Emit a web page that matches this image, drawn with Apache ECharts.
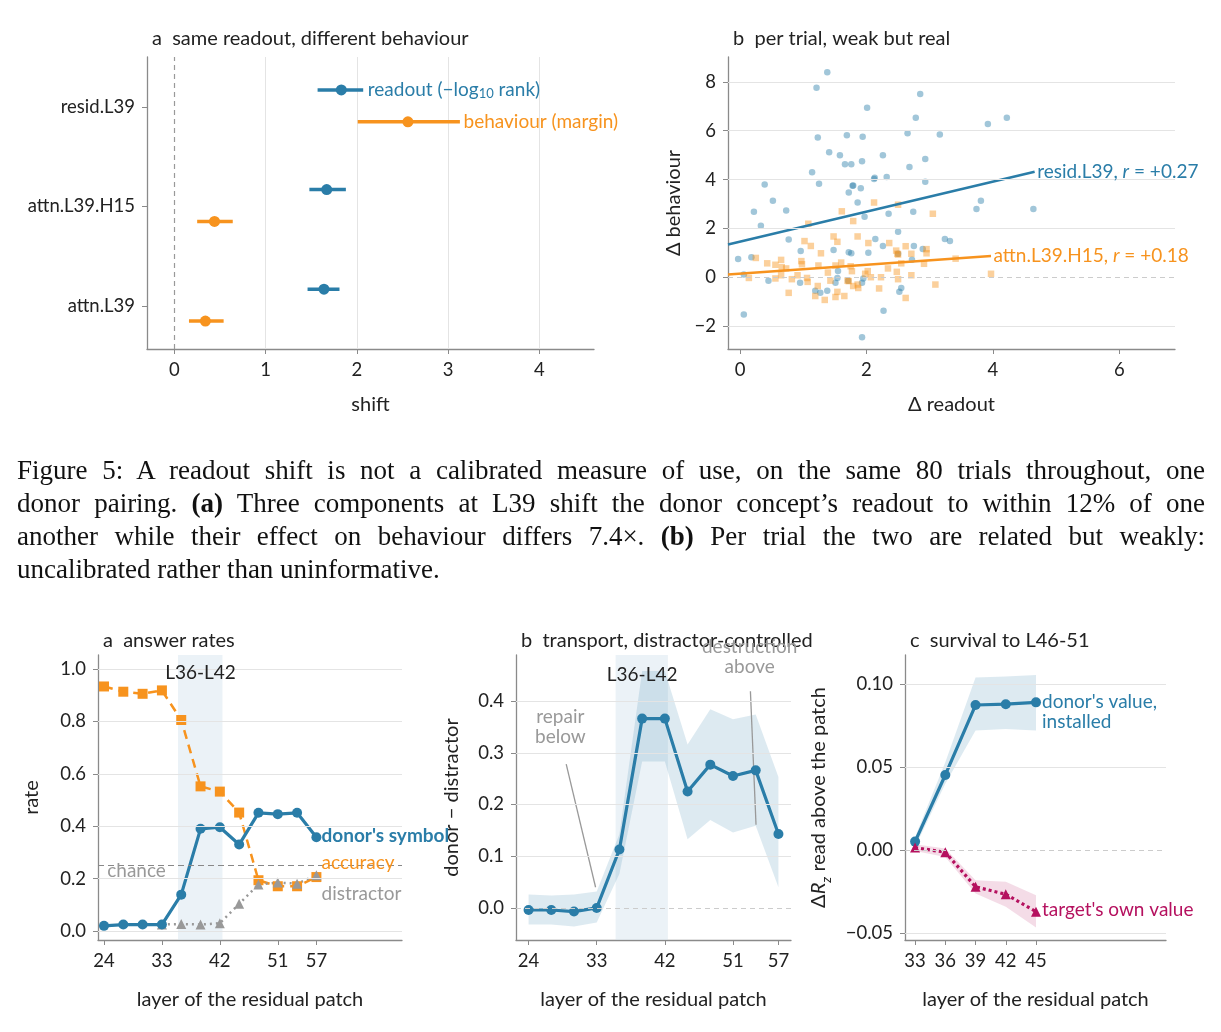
<!DOCTYPE html>
<html lang="en">
<head>
<meta charset="utf-8" />
<script src="https://cdn.jsdelivr.net/npm/echarts@6/dist/echarts.min.js"></script>
<style>
  html, body { margin: 0; padding: 0; background: #fff; }
  #chart { width: 1221px; height: 1032px; }
  #caption {
    position: absolute; left: 17px; top: 454px; width: 1188px;
    font-family: "Liberation Serif", "DejaVu Serif", serif; font-size: 27px;
    line-height: 33px; color: #111;
  }
  #caption div { text-align: justify; text-align-last: justify; white-space: nowrap; }
  #caption div.last { text-align-last: left; }
</style>
</head>
<body>
<div id="chart"></div>
<div id="caption">
<div>Figure 5: A readout shift is not a calibrated measure of use, on the same 80 trials throughout, one</div>
<div>donor pairing. <b>(a)</b> Three components at L39 shift the donor concept’s readout to within 12% of one</div>
<div>another while their effect on behaviour differs 7.4×. <b>(b)</b> Per trial the two are related but weakly:</div>
<div class="last">uncalibrated rather than uninformative.</div>
</div>
<script>
// ---- data: top a (shift per component) ----
var components = ['attn.L39', 'attn.L39.H15', 'resid.L39'];
var readoutMid = [1.64, 1.67, 1.83];
var readoutLo = [1.46, 1.48, 1.57];
var readoutHi = [1.81, 1.88, 2.07];
var behavMid = [0.34, 0.44, 2.56];
var behavLo = [0.16, 0.25, 2.01];
var behavHi = [0.54, 0.64, 3.13];

// ---- data: top b (per trial scatter) ----
var residPts = [[1.38,8.40],[1.21,7.76],[2.85,7.50],[2.01,6.94],[2.78,6.53],[4.22,6.53],[3.92,6.28],[1.23,5.72],
  [1.69,5.81],[1.94,5.75],[2.65,5.90],[3.16,5.85],[1.41,5.12],[1.58,5.00],[2.26,5.00],[1.93,4.75],[1.66,4.63],
  [1.76,4.63],[2.93,4.84],[2.68,4.51],[1.14,4.30],[2.13,4.07],[2.32,4.10],[0.39,3.80],[1.25,3.83],[1.79,3.76],
  [2.93,3.91],[1.72,3.47],[1.91,3.64],[0.52,3.13],[1.86,3.06],[0.73,2.73],[0.22,2.68],[1.97,2.48],[2.35,2.60],
  [2.74,2.68],[3.74,2.79],[3.81,3.13],[4.64,2.79],[0.33,2.11],[2.50,1.86],[0.77,1.54],[2.14,1.57],[3.24,1.57],
  [3.32,1.48],[2.26,1.28],[2.75,1.28],[0.96,1.07],[1.48,1.11],[1.72,1.02],[1.76,0.98],[2.03,1.00],[2.89,1.16],
  [-0.03,0.75],[0.18,0.82],[2.50,0.96],[2.72,0.72],[0.06,0.11],[1.55,0.25],[1.54,-0.03],[0.45,-0.14],[0.95,-0.23],
  [1.95,-0.05],[1.71,-0.14],[1.51,-0.23],[1.93,-0.23],[1.19,-0.55],[1.27,-0.64],[1.38,-0.55],[2.55,-0.44],
  [2.52,-0.60],[0.06,-1.53],[2.27,-1.37],[1.93,-2.46],[1.78,3.75],[2.12,4.02]];
var headPts = [[0.25,0.79],[0.14,-0.03],[0.43,0.57],[0.56,0.51],[0.65,0.71],[0.66,0.41],[0.73,0.36],[0.65,0.08],
  [0.56,-0.05],[0.82,-0.08],[0.77,-0.64],[0.91,0.08],[0.97,0.66],[0.98,0.53],[1.02,1.48],[1.08,2.19],[1.12,1.28],
  [1.06,-0.03],[1.07,-0.19],[1.24,0.48],[1.28,0.98],[1.23,-0.36],[1.19,-0.77],[1.34,-0.93],[1.39,0.19],[1.43,-0.14],
  [1.48,1.67],[1.54,1.45],[1.51,0.48],[1.54,-0.60],[1.51,-0.81],[1.60,0.60],[1.61,2.70],[1.65,-0.77],[1.72,-0.16],
  [1.75,0.45],[1.79,2.30],[1.77,0.25],[1.79,-0.36],[1.86,1.67],[1.86,-0.30],[1.87,-0.44],[1.98,0.14],[2.03,1.40],
  [2.02,0.25],[2.12,3.06],[2.07,0.00],[2.20,-0.46],[2.23,0.00],[2.34,0.36],[2.36,1.40],[2.47,1.09],[2.49,0.96],
  [2.50,2.97],[2.48,0.22],[2.50,-0.08],[2.55,0.57],[2.62,1.27],[2.62,-0.85],[2.71,0.96],[2.71,0.08],[2.91,0.55],
  [2.95,1.15],[2.95,0.98],[3.05,2.60],[3.09,-0.30],[3.41,0.76],[3.97,0.14],[1.70,-0.14],[2.50,0.93]];
var residFit = [[-0.19, 1.34], [4.66, 4.32]];
var headFit = [[-0.19, 0.11], [3.97, 0.87]];

// ---- data: bottom a (answer rates) ----
var layers = [24, 27, 30, 33, 36, 39, 42, 45, 48, 51, 54, 57];
var accuracy = [0.933, 0.913, 0.905, 0.918, 0.805, 0.552, 0.532, 0.452, 0.194, 0.171, 0.171, 0.206];
var donorSym = [0.02, 0.025, 0.025, 0.025, 0.139, 0.39, 0.396, 0.33, 0.451, 0.446, 0.451, 0.358];
var distLayers = [33, 36, 39, 42, 45, 48, 51, 54, 57];
var distractor = [0.025, 0.027, 0.025, 0.03, 0.104, 0.178, 0.185, 0.181, 0.213];
var layerTicks = [24, 33, 42, 51, 57];

// ---- data: bottom b (donor - distractor) ----
var transport = [-0.004, -0.004, -0.007, 0.0, 0.113, 0.366, 0.366, 0.225, 0.277, 0.255, 0.266, 0.143];
var transportHi = [0.026, 0.024, 0.026, 0.032, 0.143, 0.458, 0.458, 0.316, 0.384, 0.365, 0.374, 0.253];
var transportLo = [-0.032, -0.032, -0.036, -0.028, 0.066, 0.283, 0.283, 0.133, 0.170, 0.146, 0.159, 0.040];
var repairLine = [[28.97, 0.278], [32.85, 0.04]];
var destrLine = [[53.3, 0.419], [54.04, 0.161]];

// ---- data: bottom c (survival) ----
var survLayers = [33, 36, 39, 42, 45];
var donorVal = [0.0052, 0.0453, 0.0874, 0.0879, 0.089];
var donorValHi = [0.008, 0.053, 0.104, 0.1045, 0.1055];
var donorValLo = [0.002, 0.040, 0.072, 0.073, 0.072];
var targetVal = [0.0016, -0.0012, -0.022, -0.0265, -0.037];
var targetValHi = [0.0036, 0.001, -0.018, -0.019, -0.027];
var targetValLo = [-0.0004, -0.004, -0.026, -0.034, -0.0465];

var BLUE = '#2a7da8', ORANGE = '#f7931e', MAGENTA = '#b5115f', GREY = '#999999';
var FONT = 'Lato, "Noto Sans", sans-serif';
var AXC = '#8a8a8a';

function zip(xs, ys) { return xs.map(function (x, i) { return [x, ys[i]]; }); }

function axisBase(idx, min, max, ticks, fmt) {
  return {
    type: 'value', gridIndex: idx, min: min, max: max,
    axisLine: { show: true, onZero: false, lineStyle: { color: AXC, width: 1.3 } },
    axisTick: { show: true, length: 5, lineStyle: { color: AXC }, customValues: ticks },
    axisLabel: { color: '#222', fontSize: 18.5, fontFamily: FONT, customValues: ticks, formatter: fmt, margin: 12 },
    splitLine: { show: false },
    nameTextStyle: { color: '#222', fontSize: 20, fontFamily: FONT }
  };
}

function gridLines(idx, axis, vals) {
  return {
    type: 'line', xAxisIndex: idx, yAxisIndex: idx, data: [], silent: true,
    markLine: {
      silent: true, symbol: 'none', label: { show: false }, animation: false,
      lineStyle: { color: '#e4e4e4', type: 'solid', width: 1 },
      data: vals.map(function (v) { var o = {}; o[axis] = v; return o; })
    }
  };
}

function refLine(idx, axis, v, color, type) {
  var o = {}; o[axis] = v;
  return {
    type: 'line', xAxisIndex: idx, yAxisIndex: idx, data: [], silent: true, z: 1,
    markLine: { silent: true, symbol: 'none', label: { show: false }, animation: false,
      lineStyle: { color: color, type: type, width: 1.2 }, data: [o] }
  };
}

function texts(idx, items) {
  return {
    type: 'custom', xAxisIndex: idx, yAxisIndex: idx, silent: true, z: 10,
    data: items.map(function (t, i) { return [t[0], t[1], i]; }),
    renderItem: function (params, api) {
      var t = items[params.dataIndex];
      var p = api.coord([t[0], t[1]]);
      return { type: 'text', x: p[0], y: p[1], style: Object.assign({
        text: t[2], fill: t[3], font: (t[4] || '') + ' 19px ' + FONT,
        align: t[5] || 'left', verticalAlign: 'middle' }, t[6] || {}) };
    }
  };
}

function band(idx, xs, lo, hi, color) {
  return {
    type: 'custom', xAxisIndex: idx, yAxisIndex: idx, silent: true, z: 1,
    data: [[xs[0], lo[0]]],
    renderItem: function (params, api) {
      var pts = [];
      for (var i = 0; i < xs.length; i++) pts.push(api.coord([xs[i], hi[i]]));
      for (var j = xs.length - 1; j >= 0; j--) pts.push(api.coord([xs[j], lo[j]]));
      return { type: 'polygon', shape: { points: pts }, style: { fill: color } };
    }
  };
}

function errBars(idx, mid, lo, hi, ys, color) {
  return {
    type: 'custom', xAxisIndex: idx, yAxisIndex: idx, z: 5,
    data: mid.map(function (m, i) { return [m, ys[i], lo[i], hi[i]]; }),
    renderItem: function (params, api) {
      var a = api.coord([api.value(2), api.value(1)]);
      var b = api.coord([api.value(3), api.value(1)]);
      var c = api.coord([api.value(0), api.value(1)]);
      return { type: 'group', children: [
        { type: 'line', shape: { x1: a[0], y1: a[1], x2: b[0], y2: b[1] }, style: { stroke: color, lineWidth: 3.5 } },
        { type: 'circle', shape: { cx: c[0], cy: c[1], r: 5.5 }, style: { fill: color } }
      ] };
    }
  };
}

function shade(idx, from, to) {
  return {
    type: 'line', xAxisIndex: idx, yAxisIndex: idx, data: [], silent: true,
    markArea: { silent: true, itemStyle: { color: 'rgba(205,222,236,0.4)' }, data: [[{ xAxis: from }, { xAxis: to }]] }
  };
}

var rowY = [0, 1, 2];
var readY = rowY.map(function (y) { return y + 0.17; });
var behY = rowY.map(function (y) { return y - 0.15; });

var titleStyle = { color: '#222', fontSize: 20, fontFamily: FONT, fontWeight: 'normal' };
var xName = 'layer of the residual patch';

var option = {
  animation: false,
  title: [
    { text: 'a  same readout, different behaviour', left: 147, top: 24, textStyle: titleStyle },
    { text: 'b  per trial, weak but real', left: 728, top: 24, textStyle: titleStyle },
    { text: 'a  answer rates', left: 98, top: 626, textStyle: titleStyle },
    { text: 'b  transport, distractor-controlled', left: 516, top: 626, textStyle: titleStyle },
    { text: 'c  survival to L46-51', left: 905, top: 626, textStyle: titleStyle }
  ],
  grid: [
    { left: 147, top: 57, width: 447, height: 292 },
    { left: 728, top: 57, width: 447, height: 292 },
    { left: 98, top: 655, width: 304, height: 285 },
    { left: 516, top: 655, width: 275, height: 285 },
    { left: 905, top: 655, width: 261, height: 285 }
  ],
  xAxis: [
    Object.assign(axisBase(0, -0.3, 4.6, [0, 1, 2, 3, 4]), { name: 'shift', nameLocation: 'middle', nameGap: 46 }),
    Object.assign(axisBase(1, -0.19, 6.88, [0, 2, 4, 6]), { name: 'Δ readout', nameLocation: 'middle', nameGap: 46 }),
    Object.assign(axisBase(2, 23.07, 70.3, layerTicks), { name: xName, nameLocation: 'middle', nameGap: 50 }),
    Object.assign(axisBase(3, 22.34, 58.66, layerTicks), { name: xName, nameLocation: 'middle', nameGap: 50 }),
    Object.assign(axisBase(4, 32.0, 57.9, survLayers), { name: xName, nameLocation: 'middle', nameGap: 50 })
  ],
  yAxis: [
    axisBase(0, -0.43, 2.5, rowY, function (v) { return components[Math.round(v)]; }),
    Object.assign(axisBase(1, -2.94, 9.02, [-2, 0, 2, 4, 6, 8], function (v) { return v < 0 ? '−' + (-v) : v; }),
      { name: 'Δ behaviour', nameLocation: 'middle', nameGap: 44, nameRotate: 90 }),
    Object.assign(axisBase(2, -0.034, 1.053, [0, 0.2, 0.4, 0.6, 0.8, 1.0], function (v) { return v.toFixed(1); }),
      { name: 'rate', nameLocation: 'middle', nameGap: 56, nameRotate: 90 }),
    Object.assign(axisBase(3, -0.062, 0.489, [0, 0.1, 0.2, 0.3, 0.4], function (v) { return v.toFixed(1); }),
      { name: 'donor − distractor', nameLocation: 'middle', nameGap: 54, nameRotate: 90 }),
    Object.assign(axisBase(4, -0.054, 0.1175, [-0.05, 0, 0.05, 0.1], function (v) { return v < 0 ? '−' + (-v).toFixed(2) : v.toFixed(2); }),
      { name: 'Δ{i|R}{s|z} read above the patch', nameLocation: 'middle', nameGap: 76, nameRotate: 90,
        nameTextStyle: { color: '#222', fontSize: 20, fontFamily: FONT,
          rich: { i: { fontStyle: 'italic', fontSize: 20, fontFamily: FONT, color: '#222' },
                  s: { fontStyle: 'italic', fontSize: 14, fontFamily: FONT, color: '#222', verticalAlign: 'bottom', padding: [0, 0, -4, 0] } } } })
  ],
  series: [
    // top a
    gridLines(0, 'xAxis', [1, 2, 3, 4]),
    refLine(0, 'xAxis', 0, GREY, [5, 4]),
    errBars(0, readoutMid, readoutLo, readoutHi, readY, BLUE),
    errBars(0, behavMid, behavLo, behavHi, behY, ORANGE),
    texts(0, [
      [2.12, 2.17, 'readout (−log{s|10} rank)', BLUE, '', 'left', { rich: { s: { fontSize: 13, fill: BLUE, fontFamily: FONT, padding: [8, 0, 0, 0] } } }],
      [3.17, 1.85, 'behaviour (margin)', ORANGE]
    ]),
    // top b
    gridLines(1, 'yAxis', [-2, 2, 4, 6, 8]),
    refLine(1, 'yAxis', 0, '#cccccc', [5, 4]),
    { type: 'scatter', xAxisIndex: 1, yAxisIndex: 1, data: residPts, symbol: 'circle', symbolSize: 6.5,
      itemStyle: { color: 'rgba(42,125,168,0.55)' } },
    { type: 'scatter', xAxisIndex: 1, yAxisIndex: 1, data: headPts, symbol: 'rect', symbolSize: 6.5,
      itemStyle: { color: 'rgba(247,147,30,0.55)' } },
    { type: 'line', xAxisIndex: 1, yAxisIndex: 1, data: residFit, symbol: 'none', lineStyle: { color: BLUE, width: 2.5 } },
    { type: 'line', xAxisIndex: 1, yAxisIndex: 1, data: headFit, symbol: 'none', lineStyle: { color: ORANGE, width: 2.5 } },
    texts(1, [
      [4.7, 4.32, 'resid.L39, {i|r} = +0.27', BLUE, '', 'left', { rich: { i: { fontStyle: 'italic', fill: BLUE, fontSize: 19, fontFamily: FONT } } }],
      [4.01, 0.87, 'attn.L39.H15, {i|r} = +0.18', ORANGE, '', 'left', { rich: { i: { fontStyle: 'italic', fill: ORANGE, fontSize: 19, fontFamily: FONT } } }]
    ]),
    // bottom a
    gridLines(2, 'yAxis', [0, 0.2, 0.4, 0.6, 0.8, 1.0]),
    shade(2, 35.5, 42.4),
    refLine(2, 'yAxis', 0.25, '#888888', [6, 4]),
    { type: 'line', xAxisIndex: 2, yAxisIndex: 2, data: zip(layers, accuracy), symbol: 'rect', symbolSize: 10,
      lineStyle: { color: ORANGE, width: 2.5, type: [9, 6] }, itemStyle: { color: ORANGE }, z: 3 },
    { type: 'line', xAxisIndex: 2, yAxisIndex: 2, data: zip(distLayers, distractor), symbol: 'triangle', symbolSize: 10,
      lineStyle: { color: GREY, width: 2.5, type: [2, 4] }, itemStyle: { color: GREY }, z: 3 },
    { type: 'line', xAxisIndex: 2, yAxisIndex: 2, data: zip(layers, donorSym), symbol: 'circle', symbolSize: 10,
      lineStyle: { color: BLUE, width: 3.2 }, itemStyle: { color: BLUE }, z: 4 },
    texts(2, [
      [39, 0.985, 'L36-L42', '#222', '', 'center'],
      [24.5, 0.23, 'chance', GREY],
      [57.8, 0.365, "donor's symbol", BLUE, 'bold'],
      [57.8, 0.262, 'accuracy', ORANGE],
      [57.8, 0.142, 'distractor', GREY]
    ]),
    // bottom b
    gridLines(3, 'yAxis', [0.1, 0.2, 0.3, 0.4]),
    shade(3, 35.5, 42.4),
    refLine(3, 'yAxis', 0, '#cccccc', [5, 4]),
    band(3, layers, transportLo, transportHi, 'rgba(42,125,168,0.16)'),
    { type: 'line', xAxisIndex: 3, yAxisIndex: 3, data: zip(layers, transport), symbol: 'circle', symbolSize: 10,
      lineStyle: { color: BLUE, width: 3.2 }, itemStyle: { color: BLUE }, z: 4 },
    { type: 'line', xAxisIndex: 3, yAxisIndex: 3, data: repairLine, symbol: 'none', silent: true,
      lineStyle: { color: GREY, width: 1.3 } },
    { type: 'line', xAxisIndex: 3, yAxisIndex: 3, data: destrLine, symbol: 'none', silent: true,
      lineStyle: { color: GREY, width: 1.3 } },
    texts(3, [
      [39, 0.45, 'L36-L42', '#222', '', 'center'],
      [28.2, 0.35, 'repair\nbelow', GREY, '', 'center', { lineHeight: 20 }],
      [53.2, 0.485, 'destruction\nabove', GREY, '', 'center', { lineHeight: 20 }]
    ]),
    // bottom c
    gridLines(4, 'yAxis', [-0.05, 0.05, 0.1]),
    refLine(4, 'yAxis', 0, '#cccccc', [5, 4]),
    band(4, survLayers, donorValLo, donorValHi, 'rgba(42,125,168,0.16)'),
    band(4, survLayers, targetValLo, targetValHi, 'rgba(181,17,95,0.15)'),
    { type: 'line', xAxisIndex: 4, yAxisIndex: 4, data: zip(survLayers, donorVal), symbol: 'circle', symbolSize: 10,
      lineStyle: { color: BLUE, width: 3.2 }, itemStyle: { color: BLUE }, z: 4 },
    { type: 'line', xAxisIndex: 4, yAxisIndex: 4, data: zip(survLayers, targetVal), symbol: 'triangle', symbolSize: 10,
      lineStyle: { color: MAGENTA, width: 3.2, type: [3, 3] }, itemStyle: { color: MAGENTA }, z: 4 },
    texts(4, [
      [45.6, 0.0835, "donor's value,\ninstalled", BLUE, '', 'left', { lineHeight: 20 }],
      [45.6, -0.036, "target's own value", MAGENTA]
    ])
  ]
};

var chart = echarts.init(document.getElementById('chart'), null, { renderer: 'canvas' });
chart.setOption(option);
</script>
</body>
</html>
